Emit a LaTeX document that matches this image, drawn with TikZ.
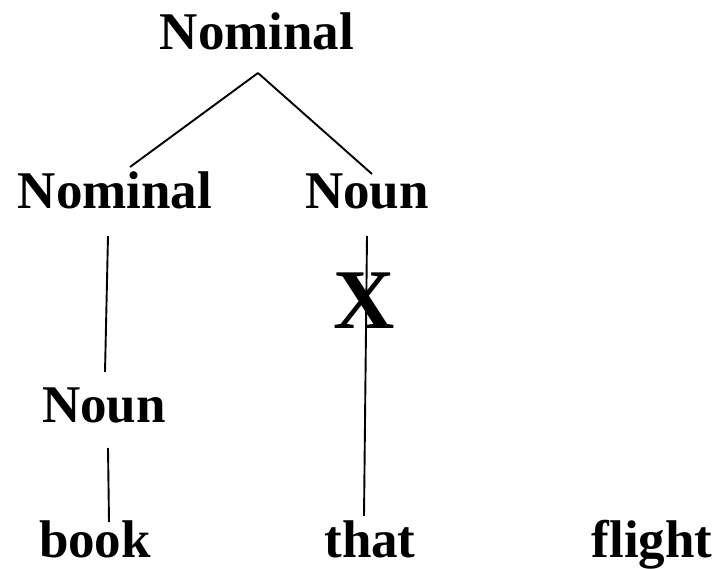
\documentclass[tikz,border=0pt]{standalone}
\usepackage{fontspec}
\setmainfont{Liberation Serif}
\begin{document}
\begin{tikzpicture}[x=1pt,y=-1pt,
  lbl/.style={inner sep=0pt,anchor=base,font=\fontsize{53}{60}\selectfont\bfseries},
  big/.style={inner sep=0pt,anchor=base,font=\fontsize{85}{90}\selectfont\bfseries},
  edge/.style={line width=1.9pt,black}]
\useasboundingbox (0,0) rectangle (720,569);
\node[lbl] (top) at (257,50) {Nominal};
\node[lbl] (nom) at (115,209) {Nominal};
\node[lbl] (noun) at (367,209) {Noun};
\node[big] (x) at (364,328) {X};
\node[lbl] (noun2) at (104,422) {Noun};
\node[lbl] (book) at (95,557) {book};
\node[lbl] (that) at (370,557) {that};
\node[lbl] (flight) at (652,557) {flight};
\coordinate (apex) at (258,73);
\coordinate (nomtop) at (130,167);
\coordinate (nountop) at (372,174);
\coordinate (nombot) at (108,236);
\coordinate (noun2top) at (105,372);
\coordinate (nounbot) at (367,236);
\coordinate (thattop) at (364,516);
\coordinate (noun2bot) at (108,448);
\coordinate (booktop) at (109,522);
\draw[edge] (apex) -- (nomtop);
\draw[edge] (apex) -- (nountop);
\draw[edge] (nombot) -- (noun2top);
\draw[edge] (nounbot) -- (thattop);
\draw[edge] (noun2bot) -- (booktop);
\end{tikzpicture}
\end{document}
